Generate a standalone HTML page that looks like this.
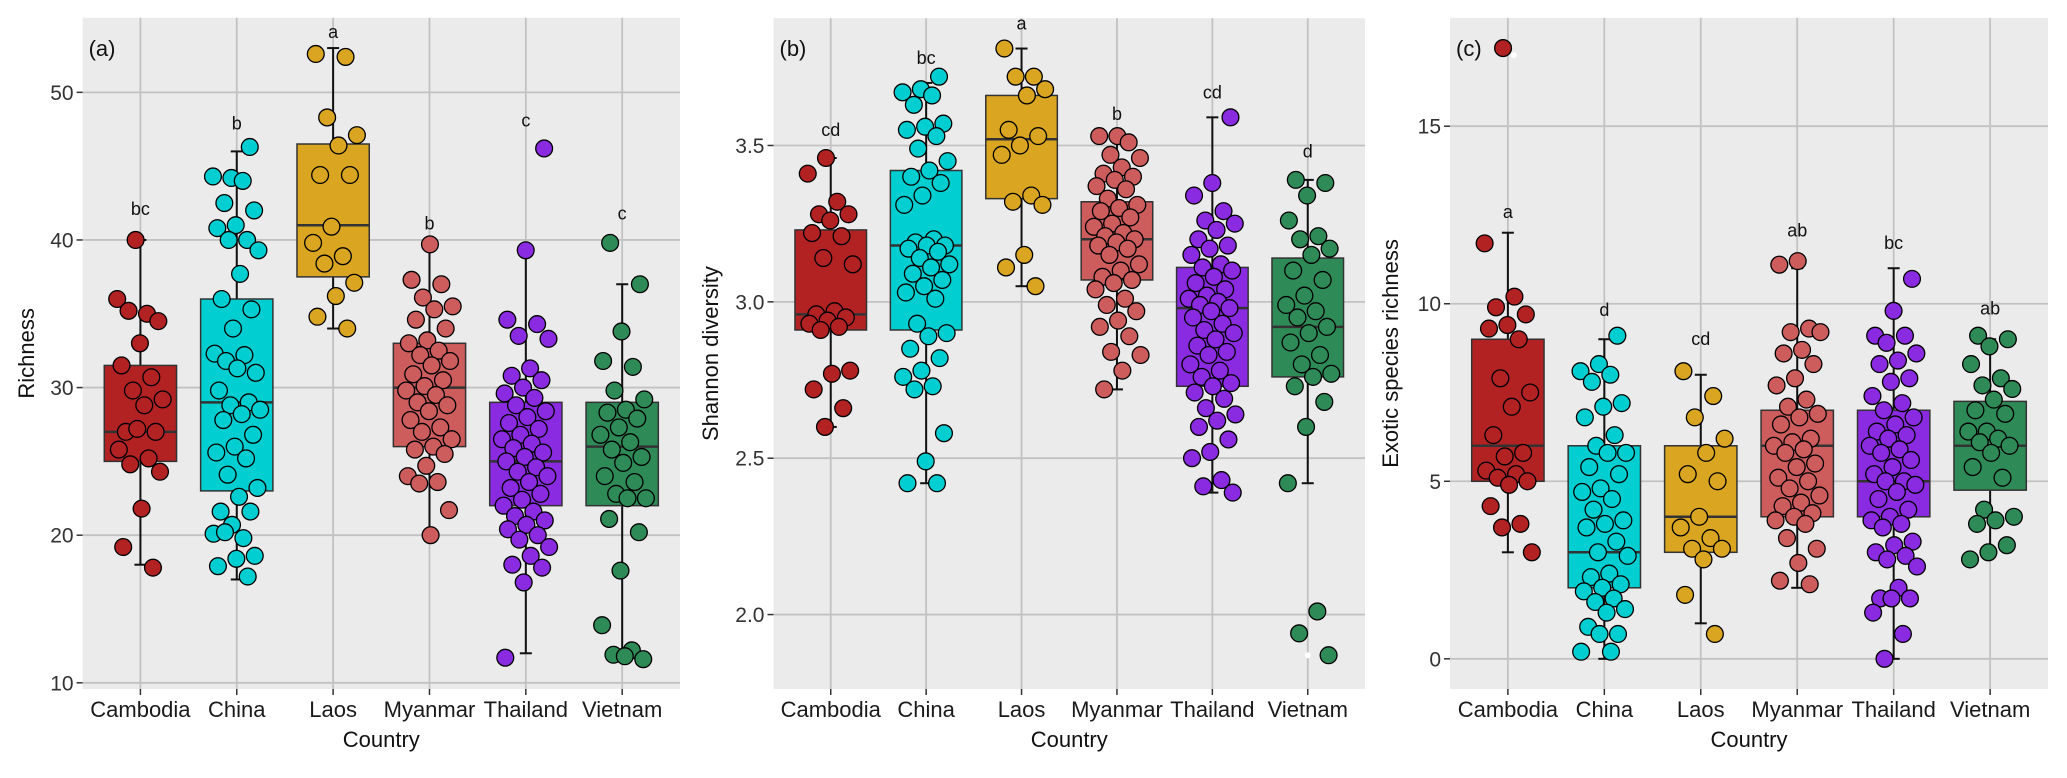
<!DOCTYPE html>
<html><head><meta charset="utf-8"><style>
html,body{margin:0;padding:0;background:#fff;}
svg{display:block;font-family:"Liberation Sans",sans-serif;}
</style></head><body>
<svg id="fig" width="2067" height="778" viewBox="0 0 2067 778" xmlns="http://www.w3.org/2000/svg"></svg>
<script>
const categories = ["Cambodia","China","Laos","Myanmar","Thailand","Vietnam"];
const colors = ["#b22222","#00ced1","#daa520","#cd5c5c","#8a2be2","#2e8b57"];

// Panel (a) Richness
const aTicks = [10,20,30,40,50];
const aBoxes = [[18,25,27,31.5,40],[17,23,29,36,46],[34,37.5,41,46.5,53],[20,26,30,33,40],[12,22,25,29,39],[12,22,26,29,37]];
const aLetters = ["bc","b","a","b","c","c"];
const aLetterY = [42.1,47.9,54.1,41.1,48.1,41.8];
const aPts = [
 [40,36,35,35.2,34.5,33,31.5,30.7,29.8,29.2,28.8,27,27,27.2,25.8,25.2,24.8,24.3,21.8,19.2,17.8],
 [46.3,44.2,44.3,44,42.5,42,41,40.8,40,40,39.3,37.7,36,35.3,34,32.3,32.2,31.8,31,31.3,29.8,29,28.8,28.5,28.2,27.8,26.8,26,25.6,25.2,24.1,23.2,22.6,21.6,21.6,20.7,20.1,19.8,20.2,18.6,18.4,17.9,17.2],
 [52.6,52.4,48.3,47.1,46.4,44.4,44.4,40.9,39.8,38.9,38.4,37.1,36.2,34.8,34],
 [39.7,37.3,37,36.1,35.5,35.3,34.6,34,33.2,33,32.5,32.2,31.8,31.5,30.9,30.5,30.1,29.8,29.5,29,28.8,28.4,27.8,27.3,27,26.5,26,25.8,25.5,24.7,24,23.6,23.5,21.7,20],
 [46.2,39.3,34.6,34.3,33.5,33.3,31.3,30.8,30.5,30,29.6,29.3,28.8,28.4,28,27.6,27.2,26.8,26.5,26.2,25.9,25.6,25.3,25,24.6,24.3,24,23.6,23.2,22.8,22.4,22,21.6,21.3,21,20.7,20.4,20,19.7,19.2,18.6,18,17.8,16.8,11.7],
 [39.8,37,33.8,31.8,31.4,29.8,29.2,28.5,28.3,27.9,27.3,26.8,26.3,25.8,25.3,24.9,24,23.6,22.8,22.5,22.5,21.1,20.2,17.6,13.9,12.2,11.9,11.6,11.8]
];

// Panel (b) Shannon diversity
const bTicks = [2.0,2.5,3.0,3.5];
const bBoxes = [[2.60,2.91,2.96,3.23,3.46],[2.42,2.91,3.18,3.42,3.70],[3.05,3.33,3.52,3.66,3.81],[2.72,3.07,3.20,3.32,3.53],[2.39,2.73,2.98,3.11,3.59],[2.42,2.76,2.92,3.14,3.39]];
const bLetters = ["cd","bc","a","b","cd","d"];
const bLetterY = [3.55,3.78,3.89,3.60,3.67,3.48];
const bPts = [
 [3.46,3.41,3.32,3.28,3.28,3.26,3.22,3.21,3.14,3.12,2.97,2.96,2.95,2.94,2.93,2.92,2.91,2.78,2.77,2.72,2.66,2.6],
 [3.72,3.68,3.67,3.66,3.63,3.57,3.56,3.55,3.53,3.49,3.45,3.42,3.40,3.38,3.34,3.31,3.20,3.19,3.18,3.18,3.17,3.16,3.14,3.12,3.11,3.09,3.07,3.05,3.03,3.01,2.93,2.90,2.89,2.85,2.82,2.78,2.76,2.73,2.72,2.58,2.49,2.42,2.42],
 [3.81,3.72,3.72,3.68,3.66,3.55,3.53,3.50,3.47,3.34,3.32,3.31,3.15,3.11,3.05],
 [3.53,3.53,3.51,3.47,3.46,3.43,3.41,3.40,3.39,3.37,3.36,3.33,3.31,3.30,3.29,3.27,3.25,3.24,3.22,3.21,3.20,3.19,3.18,3.17,3.15,3.12,3.10,3.08,3.07,3.06,3.04,3.01,2.99,2.97,2.94,2.92,2.89,2.84,2.83,2.78,2.72],
 [3.59,3.38,3.34,3.29,3.26,3.25,3.23,3.2,3.18,3.17,3.15,3.12,3.11,3.1,3.08,3.06,3.04,3.02,3.01,3.0,2.99,2.98,2.97,2.95,2.93,2.91,2.9,2.88,2.86,2.84,2.83,2.8,2.78,2.76,2.74,2.73,2.71,2.69,2.66,2.64,2.62,2.6,2.56,2.52,2.5,2.43,2.41,2.39],
 [3.39,3.38,3.34,3.26,3.21,3.2,3.17,3.15,3.1,3.07,3.02,2.99,2.97,2.95,2.92,2.9,2.87,2.83,2.8,2.77,2.76,2.73,2.68,2.6,2.42,2.01,1.94,1.87]
];

// Panel (c) Exotic species richness
const cTicks = [0,5,10,15];
const cBoxes = [[3,5,6,9,12],[0,2,3,6,9],[1,3,4,6,8],[2,4,6,7,11],[0,4,5,7,11],[3,4.75,6,7.25,9]];
const cLetters = ["a","d","cd","ab","bc","ab"];
const cLetterY = [12.58,9.82,9.01,12.06,11.71,9.86];
const cPts = [
 [17.2,11.7,10.2,9.9,9.7,9.4,9.3,9.0,7.9,7.5,7.1,6.3,5.8,5.7,5.3,5.2,5.1,5.0,4.9,4.3,3.8,3.7,3.0],
 [9.1,8.3,8.1,8.0,7.8,7.2,7.1,6.8,6.3,6.0,5.8,5.8,5.4,5.2,4.8,4.7,4.5,4.2,3.9,3.8,3.7,3.3,3.0,2.9,2.4,2.3,2.1,2.0,1.9,1.7,1.6,1.4,1.3,0.9,0.7,0.7,0.2,0.2],
 [8.1,7.4,6.8,6.2,5.8,5.2,5.0,4.0,3.7,3.4,3.1,3.1,2.8,1.8,0.7],
 [11.2,11.1,9.3,9.2,9.2,8.7,8.6,8.3,7.9,7.7,7.3,7.1,6.9,6.8,6.6,6.2,6.1,6.0,5.9,5.8,5.5,5.4,5.1,5.0,4.8,4.6,4.4,4.3,4.1,4.0,3.9,3.8,3.4,3.1,2.7,2.2,2.1],
 [10.7,9.8,9.1,9.1,8.9,8.6,8.4,8.3,7.9,7.8,7.4,7.2,7.0,6.8,6.6,6.4,6.3,6.2,6.0,5.9,5.8,5.6,5.4,5.2,5.0,5.0,4.9,4.7,4.5,4.2,4.0,3.9,3.8,3.7,3.3,3.2,3.0,2.9,2.8,2.6,2.0,1.7,1.7,1.7,1.3,0.7,0.0],
 [9.1,9.0,8.8,8.3,7.9,7.7,7.6,7.3,7.0,6.9,6.4,6.4,6.2,6.1,6.0,5.8,5.4,5.1,4.2,4.0,3.9,3.8,3.2,3.0,2.8]
];

const NS="http://www.w3.org/2000/svg";
const svg=document.getElementById('fig');
function mk(tag,attrs,parent){const e=document.createElementNS(NS,tag);for(const k in attrs)e.setAttribute(k,attrs[k]);(parent||svg).appendChild(e);return e;}

function panel(cfg){
  const {id,L,R,T,B,vTop,vBot,ticks,tickFmt,boxes,pts,letters,letterY,ytitle,tag,ytitleX}=cfg;
  const g=mk('g',{});
  
  
  const step=(R-L)/6.2;
  const xs=i=>L+step*(0.6+i);
  const ys=v=>T+(vTop-v)/(vTop-vBot)*(B-T);
  const bg=mk('rect',{x:L,y:T,width:R-L,height:B-T,fill:'#ebebeb'},g);
  
  
  ticks.forEach(t=>{
    const y=ys(t);
    const gl=mk('line',{x1:L,x2:R,y1:y,y2:y,stroke:'#c2c2c2','stroke-width':1.8},g);
    
    
    mk('line',{x1:L-6,x2:L,y1:y,y2:y,stroke:'#333','stroke-width':1.5},g);
    const tx=mk('text',{x:L-9,y:y+7.5,'text-anchor':'end','font-size':21,fill:'#333'},g);
    tx.textContent=tickFmt(t);
    
    
  });
  categories.forEach((c,i)=>{
    const x=xs(i);
    const gl=mk('line',{x1:x,x2:x,y1:T,y2:B,stroke:'#c2c2c2','stroke-width':1.8},g);
    
    
    mk('line',{x1:x,x2:x,y1:B,y2:B+6,stroke:'#333','stroke-width':1.5},g);
    const tx=mk('text',{x:x,y:B+28,'text-anchor':'middle','font-size':22,fill:'#1a1a1a'},g);
    tx.textContent=c;
    
    
  });
  boxes.forEach((b,i)=>{
    const x=xs(i), hw=step*0.375;
    const w1=mk('line',{x1:x,x2:x,y1:ys(b[0]),y2:ys(b[1]),stroke:'#111','stroke-width':2},g);
    
    
    const w2=mk('line',{x1:x,x2:x,y1:ys(b[3]),y2:ys(b[4]),stroke:'#111','stroke-width':2},g);
    
    
    mk('line',{x1:x-6,x2:x+6,y1:ys(b[0]),y2:ys(b[0]),stroke:'#111','stroke-width':2},g);
    mk('line',{x1:x-6,x2:x+6,y1:ys(b[4]),y2:ys(b[4]),stroke:'#111','stroke-width':2},g);
    const r=mk('rect',{x:x-hw,y:ys(b[3]),width:2*hw,height:ys(b[1])-ys(b[3]),fill:colors[i],stroke:'#333','stroke-width':1.5},g);
    
    
    const m=mk('line',{x1:x-hw,x2:x+hw,y1:ys(b[2]),y2:ys(b[2]),stroke:'#333','stroke-width':2.5},g);
    
    
  });
  pts.forEach((arr,i)=>{
    arr.forEach((v,k)=>{
      const j=(((k*0.618034+i*0.37+0.4)%1)*2-1);
      const cx=xs(i)+j*step*0.25;
      const p=mk('circle',{cx:cx,cy:ys(v),r:8.4,fill:colors[i],stroke:'#000','stroke-width':1.3},g);
      
      
    });
  });
  letters.forEach((l,i)=>{
    const t=mk('text',{x:xs(i),y:ys(letterY[i])+6,'text-anchor':'middle','font-size':18,fill:'#111'},g);
    t.textContent=l;
    
    
  });
  const tg=mk('text',{x:L+6,y:T+38,'font-size':22,fill:'#111'},g);
  tg.textContent=tag;
  
  
  const yt=mk('text',{x:0,y:0,'text-anchor':'middle','font-size':22,fill:'#111',transform:`translate(${ytitleX},${(T+B)/2}) rotate(-90)`},g);
  yt.textContent=ytitle;
  
  
  const xt=mk('text',{x:(L+R)/2,y:B+58,'text-anchor':'middle','font-size':22,fill:'#111'},g);
  xt.textContent='Country';
  
  
  return {xs,ys,g};
}

const pa=panel({id:'richness',L:82.6,R:680,T:17.8,B:689,vTop:55.05,vBot:9.58,ticks:aTicks,tickFmt:t=>String(t),boxes:aBoxes,pts:aPts,letters:aLetters,letterY:aLetterY,ytitle:'Richness',tag:'(a)',ytitleX:34});
const pb=panel({id:'shannon',L:773.5,R:1365,T:18.2,B:689,vTop:3.907,vBot:1.762,ticks:bTicks,tickFmt:t=>t.toFixed(1),boxes:bBoxes,pts:bPts,letters:bLetters,letterY:bLetterY,ytitle:'Shannon diversity',tag:'(b)',ytitleX:718});
const pc=panel({id:'exotic',L:1450,R:2048,T:17.9,B:689,vTop:18.05,vBot:-0.85,ticks:cTicks,tickFmt:t=>String(t),boxes:cBoxes,pts:cPts,letters:cLetters,letterY:cLetterY,ytitle:'Exotic species richness',tag:'(c)',ytitleX:1398});
const w1=mk('circle',{cx:pb.xs(5),cy:pb.ys(1.87),r:3,fill:'#fff'},pb.g);


const w2=mk('circle',{cx:pc.xs(0)+6,cy:pc.ys(17),r:3,fill:'#fff'},pc.g);


</script>
</body></html>
